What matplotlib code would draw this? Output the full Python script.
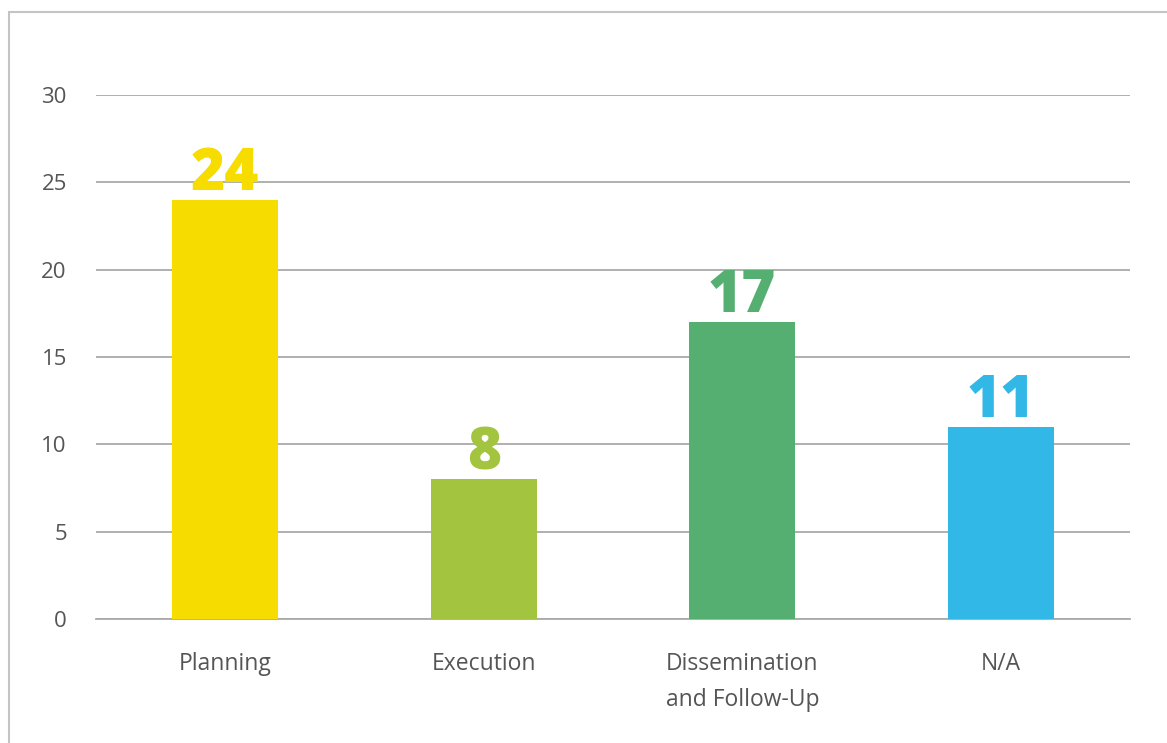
import matplotlib
matplotlib.use("Agg")
import matplotlib.pyplot as plt
from matplotlib.patches import Rectangle

categories = ["Planning", "Execution", "Dissemination\nand Follow-Up", "N/A"]
values = [24, 8, 17, 11]
colors = ["#F7DC00", "#A2C43F", "#55AF70", "#31B8E6"]
yticks = [0, 5, 10, 15, 20, 25, 30]

plt.rcParams["font.family"] = ["Open Sans", "DejaVu Sans"]

fig = plt.figure(figsize=(11.67, 7.43), dpi=100)
ax = fig.add_axes([96 / 1167, 124 / 743, (1130 - 96) / 1167, (619 - 95) / 743])

x = list(range(len(categories)))
ax.bar(x, values, width=0.41, color=colors, zorder=3)

for xi, v, c in zip(x, values, colors):
    ax.annotate(str(v), (xi, v), xytext=(0, 7), textcoords="offset points",
                ha="center", va="baseline", fontsize=42, fontweight="heavy",
                color=c, zorder=4)

ax.set_xlim(-0.5, len(categories) - 0.5)
ax.set_ylim(0, 30)
ax.set_yticks(yticks)
ax.set_xticks(x)
ax.set_xticklabels(categories, linespacing=1.65)
ax.tick_params(axis="x", length=0, pad=24, labelsize=16.5, labelcolor="#555555")
ax.tick_params(axis="y", length=0, pad=21, labelsize=16, labelcolor="#555555")
ax.yaxis.grid(True, color="#9a9a9a", linewidth=1.1, zorder=0)
ax.set_axisbelow(True)
for s in ["top", "right", "left"]:
    ax.spines[s].set_visible(False)
ax.spines["bottom"].set_color("#aaaaaa")
ax.spines["bottom"].set_linewidth(1.3)

# light frame around the chart panel
fig.patches.append(Rectangle((9 / 1167, -0.05), 1.2, (743 - 12) / 743 + 0.05,
                             transform=fig.transFigure, fill=False,
                             edgecolor="#c4c4c4", linewidth=1.5))

fig.savefig("out.png", dpi=100, facecolor="white")
